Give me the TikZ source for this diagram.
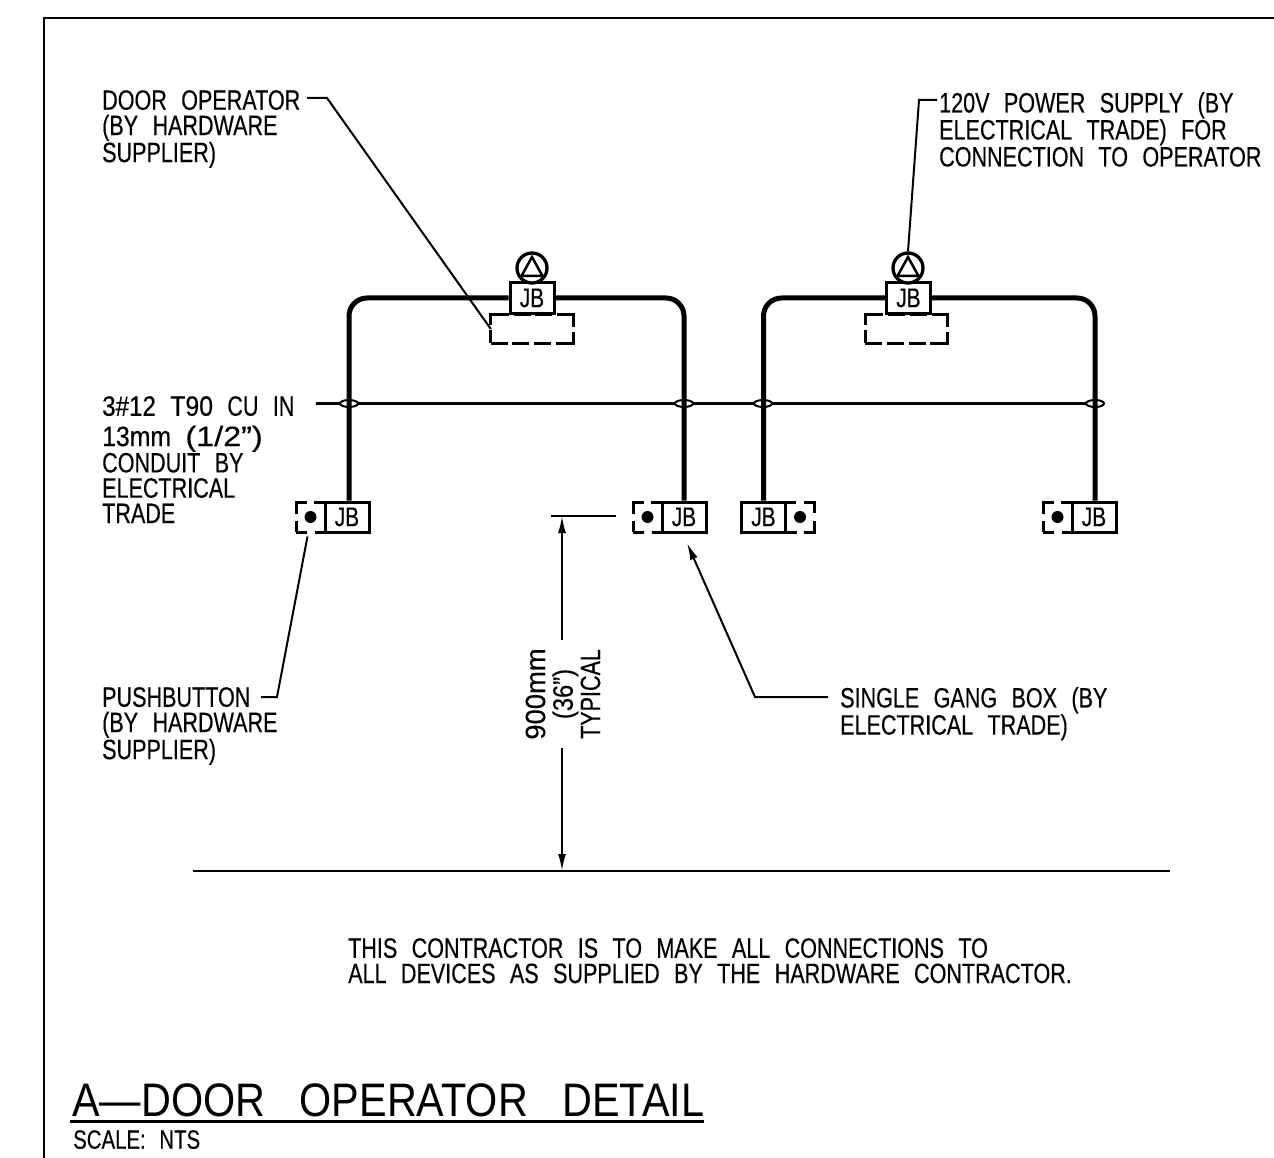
\documentclass[tikz,border=0pt]{standalone}
\usepackage{fontspec}
\setmainfont[FakeStretch=0.77,WordSpace=2.4,FakeBold=0.3]{Liberation Sans}
\newfontfamily\titlefont[FakeStretch=0.88,WordSpace=3.0]{Liberation Sans}
\usetikzlibrary{arrows.meta}
\tikzset{
>={Latex[length=17pt,width=8pt]},
FRAME/.style ={draw=black,line join=miter,line width=2.5pt},
CONDUIT/.style ={draw=black,line cap=butt,rounded corners=18pt,line width=5pt},
WIRE/.style ={draw=black,line width=2.3pt},
LEADER/.style ={draw=black,line width=2pt},
JBOX/.style={draw=black,fill=white,line width=3pt,minimum width=44pt,minimum height=30pt,inner sep=0pt,font=\fontsize{27}{27}\selectfont},
OPBOX/.style={minimum width=82pt,minimum height=28pt,inner sep=0pt},
OPDASH/.style={draw=black,line width=3pt,dash pattern=on 17pt off 4.67pt on 17pt off 4.67pt on 17pt off 4.67pt on 28.5pt off 5pt on 11.5pt off 0pt},
PBBOX/.style={draw=black,line width=3pt,dash pattern=on 22pt off 7.5pt,dash phase=11pt,minimum width=29pt,minimum height=30pt,inner sep=0pt},
POWER/.style={circle,draw=black,fill=white,line width=3.3pt,minimum size=30pt,inner sep=0pt},
SPLICE/.style={draw=black,fill=white,line width=2pt},
LABEL/.style={inner sep=0pt,align=left,font=\fontsize{28}{25.3}\selectfont},
}
\begin{document}
\begin{tikzpicture} [x=1pt, y=-1pt] %door operator wiring
	\useasboundingbox (0,0) rectangle (1274,1158);
	\path[FRAME] (1274,18) -- (44,18) -- (44,1158);
	% wire across the four drops
	\coordinate (wireStart) at (316,403.5);
	\coordinate (wireEnd) at (1104,403.5);
	\path[WIRE] (wireStart) -- (wireEnd);
	\path[SPLICE] (349,403.5) circle [x radius=9pt, y radius=3.5pt];
	\path[SPLICE] (684,403.5) circle [x radius=9pt, y radius=3.5pt];
	\path[SPLICE] (763,403.5) circle [x radius=9pt, y radius=3.5pt];
	\path[SPLICE] (1095,403.5) circle [x radius=9pt, y radius=3.5pt];
	% boxes
	\node[OPBOX] (opA) at (532,329) {};
	\node[OPBOX] (opB) at (906.5,329) {};
	\path[OPDASH] (opA.south west) -- (opA.south east) -- (opA.north east) -- (opA.north west) -- cycle;
	\path[OPDASH] (opB.south west) -- (opB.south east) -- (opB.north east) -- (opB.north west) -- cycle;
	\node[JBOX] (topA) at (532,298) {JB};
	\node[JBOX] (topB) at (908.5,298) {JB};
	\node[POWER] (pwrA) at (532,268) {};
	\node[POWER] (pwrB) at (908,268) {};
	\path[FRAME] ([shift={(0,-11)}]pwrA.center) -- ([shift={(10.5,8)}]pwrA.center) -- ([shift={(-10.5,8)}]pwrA.center) -- cycle;
	\path[FRAME] ([shift={(0,-11)}]pwrB.center) -- ([shift={(10.5,8)}]pwrB.center) -- ([shift={(-10.5,8)}]pwrB.center) -- cycle;
	\node[PBBOX] (pbA) at (310.5,517) {};
	\node[PBBOX] (pbB) at (647.5,517) {};
	\node[PBBOX] (pbC) at (800,517) {};
	\node[PBBOX] (pbD) at (1057.5,517) {};
	\node[JBOX] (jbA) at (347,517) {JB};
	\node[JBOX] (jbB) at (684,517) {JB};
	\node[JBOX] (jbC) at (763.5,517) {JB};
	\node[JBOX] (jbD) at (1094,517) {JB};
	\fill (pbA.center) circle (6pt);
	\fill (pbB.center) circle (6pt);
	\fill (pbC.center) circle (6pt);
	\fill (pbD.center) circle (6pt);
	% conduit
	\path[CONDUIT] (topA.west) -| ([xshift=2pt]jbA.north);
	\path[CONDUIT] (topA.east) -| (jbB.north);
	\path[CONDUIT] (topB.west) -| (jbC.north);
	\path[CONDUIT] (topB.east) -| ([xshift=1pt]jbD.north);
	% notes
	\node[LABEL,anchor=north west] (doorText) at (102,90) {DOOR OPERATOR\\(BY HARDWARE\\SUPPLIER)};
	\node[LABEL,anchor=north west,font=\fontsize{28}{27}\selectfont] (powerText) at (939,92) {120V POWER SUPPLY (BY\\ELECTRICAL TRADE) FOR\\CONNECTION TO OPERATOR};
	\node[LABEL,anchor=north west] (wireText) at (102,396) {\scalebox{1.12}[1]{3\#12} \scalebox{1.15}[1]{T90} CU IN\\[5pt]\scalebox{1.15}[1]{13mm} \scalebox{1.5}[1]{(1/2”)}\\CONDUIT BY\\ELECTRICAL\\TRADE};
	\node[LABEL,anchor=north west] (pushText) at (102,687) {PUSHBUTTON\\(BY HARDWARE\\SUPPLIER)};
	\node[LABEL,anchor=north west] (gangText) at (840,687) {SINGLE GANG BOX (BY\\ELECTRICAL TRADE)};
	\node[LABEL,anchor=north west] (noteText) at (348,938) {THIS CONTRACTOR IS TO MAKE ALL CONNECTIONS TO\\ALL DEVICES AS SUPPLIED BY THE HARDWARE CONTRACTOR.};
	\node[LABEL,anchor=north west,font=\titlefont\fontsize{47}{47}\selectfont] (titleText) at (72,1083) {A—DOOR OPERATOR DETAIL};
	\node[LABEL,anchor=north west,font=\fontsize{26.5}{26.5}\selectfont] (scaleText) at (73,1130) {SCALE: NTS};
	\node[LABEL,align=center,rotate=90,font=\fontsize{28}{27.5}\selectfont] (dimText) at (563,694) {\scalebox{1.27}[1]{900mm}\\\scalebox{1.1}[1]{(36”)}\\TYPICAL};
	% leaders
	\coordinate (doorOut) at (307,98);
	\coordinate (powerOut) at (937,100);
	\coordinate (pushOut) at (261,697);
	\coordinate (gangOut) at (828,697);
	\path[LEADER] (doorOut) -- (327,98) -- (opA.west);
	\path[LEADER] (powerOut) -- (919,100) -- (pwrB.north);
	\path[LEADER] (pushOut) -- (277,697) -- ([shift={(-3,3)}]pbA.south);
	\coordinate (gangTip) at (687,543);
	\path[LEADER,->] (gangOut) -- (755,697) -- (gangTip);
	% dimension
	\coordinate (dimTop) at (562,516);
	\coordinate (dimBot) at (562,871);
	\coordinate (dimUp) at (562,640);
	\coordinate (dimDown) at (562,748);
	\coordinate (extLeft) at (551,516);
	\coordinate (extRight) at (616,516);
	\coordinate (floorLeft) at (193,871);
	\coordinate (floorRight) at (1170,871);
	\path[LEADER] (extLeft) -- (extRight);
	\path[LEADER,->] (dimUp) -- (dimTop);
	\path[LEADER,->] (dimDown) -- (dimBot);
	\path[LEADER] (floorLeft) -- (floorRight);
	\path[FRAME] (550,871) -- (670,871);
	\path[FRAME] ([shift={(-2,5)}]titleText.south west) -- ([shift={(0,5)}]titleText.south east);
\end{tikzpicture}
\end{document}
